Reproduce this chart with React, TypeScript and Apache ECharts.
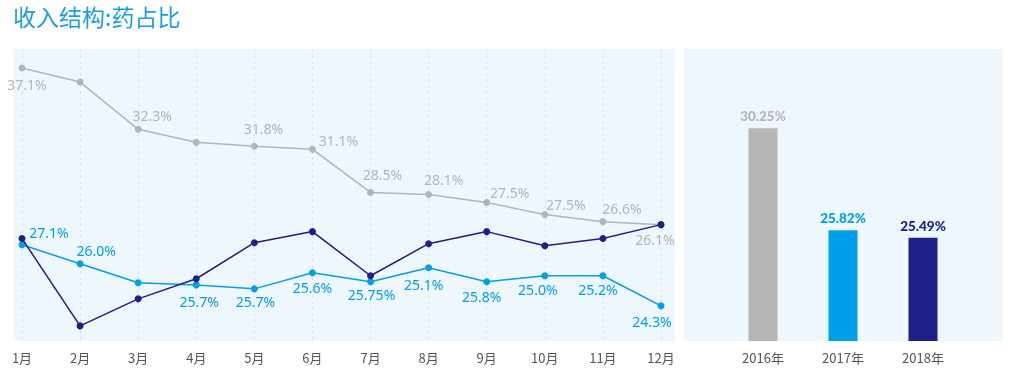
import React, { useEffect, useRef } from "react";
import * as echarts from "echarts";

const months = ["1月", "2月", "3月", "4月", "5月", "6月", "7月", "8月", "9月", "10月", "11月", "12月"];
// plotted positions
const grayValues = [37.16, 36.18, 32.86, 31.95, 31.67, 31.46, 28.43, 28.29, 27.72, 26.88, 26.38, 26.17];
const navyValues = [25.19, 19.06, 20.96, 22.37, 24.9, 25.68, 22.58, 24.83, 25.68, 24.69, 25.19, 26.17];
const cyanValues = [24.76, 23.42, 22.09, 21.94, 21.66, 22.79, 22.16, 23.14, 22.16, 22.58, 22.58, 20.47];
// printed labels
const grayLabels = ["37.1%", "", "32.3%", "", "31.8%", "31.1%", "28.5%", "28.1%", "27.5%", "27.5%", "26.6%", "26.1%"];
const cyanLabels = ["27.1%", "26.0%", "", "25.7%", "25.7%", "25.6%", "25.75%", "25.1%", "25.8%", "25.0%", "25.2%", "24.3%"];

const years = ["2016年", "2017年", "2018年"];
const yearValues = [30.25, 25.82, 25.49];

const grayOffsets = [[5, 16], [0, 0], [14, -14], [0, 0], [9, -18], [26, -9], [12, -18], [15, -15], [23, -10], [21, -10], [19, -13], [-6, 15]];
const cyanOffsets = [[27, -12], [16, -13], [0, 0], [3, 17], [1, 13], [0, 15], [1, 13], [-5, 17], [-5, 15], [-7, 14], [-5, 14], [-9, 16]];

const GRAY = "#b5b5b5";
const CYAN = "#00a0e9";
const NAVY = "#1d2088";
const BG = "#eef6fe";

export default function App() {
  const ref = useRef<HTMLDivElement>(null);
  useEffect(() => {
    if (!ref.current) return;
    const chart = echarts.init(ref.current, null, { renderer: "svg" });
    const lineLabel = (labels: string[], offsets: number[][], color: string) =>
      (v: number, i: number) => ({
        value: v,
        label: {
          show: labels[i] !== "",
          position: "inside",
          offset: offsets[i],
          formatter: labels[i],
          color,
          fontSize: 14,
          fontFamily: "Noto Sans",
        },
      });
    chart.setOption({
      animation: false,
      graphic: [
        { type: "rect", shape: { x: 14, y: 49, width: 661, height: 292 }, style: { fill: BG }, z: -10 },
        { type: "rect", shape: { x: 684, y: 49, width: 319, height: 292 }, style: { fill: BG }, z: -10 },
        {
          type: "text",
          left: 13,
          top: 4,
          style: { text: "收入结构:药占比", fill: "#1a9ee3", fontSize: 23, fontWeight: "normal", fontFamily: "Noto Sans CJK SC" },
        },
      ],
      grid: [
        { left: 22, right: 352, top: 49, bottom: 51 },
        { left: 723, right: 50, top: 49, bottom: 51 },
      ],
      xAxis: [
        {
          type: "category",
          gridIndex: 0,
          data: months,
          boundaryGap: false,
          axisLine: { show: false },
          axisTick: { show: false },
          axisLabel: { color: "#555", fontSize: 13, margin: 10, fontFamily: "Noto Sans CJK SC" },
          splitLine: { show: true, lineStyle: { color: "#dbe4ee", type: [3, 3], width: 1 } },
        },
        {
          type: "category",
          gridIndex: 1,
          data: years,
          axisLine: { show: false },
          axisTick: { show: false },
          axisLabel: { color: "#555", fontSize: 13, margin: 10, fontFamily: "Noto Sans CJK SC" },
          splitLine: { show: false },
        },
      ],
      yAxis: [
        { type: "value", gridIndex: 0, min: 18, max: 38.5, show: false, splitLine: { show: false } },
        { type: "value", gridIndex: 1, min: 21, max: 33.7, show: false, splitLine: { show: false } },
      ],
      series: [
        {
          type: "line",
          xAxisIndex: 0,
          yAxisIndex: 0,
          data: grayValues.map(lineLabel(grayLabels, grayOffsets, GRAY)),
          symbol: "circle",
          symbolSize: 7,
          itemStyle: { color: GRAY },
          lineStyle: { color: GRAY, width: 1.5 },
          z: 2,
        },
        {
          type: "line",
          xAxisIndex: 0,
          yAxisIndex: 0,
          data: cyanValues.map(lineLabel(cyanLabels, cyanOffsets, CYAN)),
          symbol: "circle",
          symbolSize: 7,
          itemStyle: { color: CYAN },
          lineStyle: { color: CYAN, width: 1.5 },
          z: 3,
        },
        {
          type: "line",
          xAxisIndex: 0,
          yAxisIndex: 0,
          data: navyValues,
          symbol: "circle",
          symbolSize: 7,
          itemStyle: { color: NAVY },
          lineStyle: { color: NAVY, width: 1.5 },
          z: 4,
        },
        {
          type: "bar",
          xAxisIndex: 1,
          yAxisIndex: 1,
          barWidth: 29,
          data: yearValues.map((v, i) => ({
            value: v,
            itemStyle: { color: [GRAY, CYAN, NAVY][i] },
            label: { color: [GRAY, CYAN, NAVY][i] },
          })),
          label: {
            show: true,
            position: "top",
            distance: 5,
            formatter: (p: any) => p.value.toFixed(2) + "%",
            fontSize: 13.5,
            fontWeight: 900,
            fontFamily: "Lato",
          },
        },
      ],
    });
    return () => chart.dispose();
  }, []);
  return <div ref={ref} style={{ position: "fixed", left: 0, top: 0, width: 1013, height: 392 }} />;
}
